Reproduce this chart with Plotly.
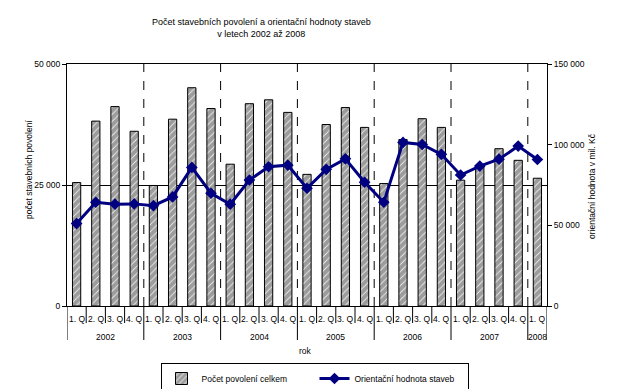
import plotly.graph_objects as go

# ---- data ----
years = ["2002", "2003", "2004", "2005", "2006", "2007", "2008"]
quarters_per_year = [4, 4, 4, 4, 4, 4, 1]
quarter_labels = ["1. Q", "2. Q", "3. Q", "4. Q"] * 6 + ["1. Q"]
permits = [25500, 38200, 41200, 36100,
           24900, 38600, 45100, 40800,
           29300, 41800, 42600, 40000,
           27200, 37500, 41000, 36900,
           25300, 34400, 38700, 36900,
           26000, 29100, 32500, 30100,
           26400]
value_mil = [51100, 64300, 63100, 63300,
             62200, 67600, 85900, 69900,
             63100, 78100, 86300, 87300,
             73000, 84700, 91200, 76700,
             64300, 101400, 100100, 94000,
             81200, 86700, 91000, 99100,
             90800]
left_ticks = [0, 25000, 50000]
left_ticktext = ["0", "25 000", "50 000"]
right_ticks = [0, 50000, 100000, 150000]
right_ticktext = ["0", "50 000", "100 000", "150 000"]

FONT = "Liberation Sans, Arial, sans-serif"

W, H = 626, 389
L, R, T, B = 67, 79, 64, 83
ph = H - T - B
pw = W - L - R

def py(px):  # pixel y -> paper y
    return (H - B - px) / ph

def pxp(px):  # pixel x -> paper x
    return (px - L) / pw

x = list(range(len(permits)))

fig = go.Figure()
fig.add_trace(go.Bar(
    x=x, y=permits, name="Počet povolení celkem",
    marker=dict(color="white", line=dict(color="black", width=1),
                pattern=dict(shape="/", fgcolor="#3a3a3a", bgcolor="white",
                             size=5, solidity=0.85)),
    yaxis="y"))
fig.add_trace(go.Scatter(
    x=x, y=value_mil, name="Orientační hodnota staveb", mode="lines+markers",
    line=dict(color="#000080", width=3),
    marker=dict(symbol="diamond", size=9, color="#000080"),
    yaxis="y2"))

shapes = []
annotations = []
bounds = [-0.5]
for n in quarters_per_year:
    bounds.append(bounds[-1] + n)
for b in bounds[1:-1]:
    shapes.append(dict(type="line", xref="x", yref="paper", x0=b, x1=b, y0=0, y1=1,
                       line=dict(color="black", width=1, dash="dash"), layer="below"))
for b in bounds:
    shapes.append(dict(type="line", xref="x", yref="paper", x0=b, x1=b,
                       y0=0, y1=py(340), line=dict(color="black", width=1)))
for i in range(len(permits) - 1):
    b = i + 0.5
    if b not in bounds:
        shapes.append(dict(type="line", xref="x", yref="paper", x0=b, x1=b,
                           y0=0, y1=py(323), line=dict(color="black", width=1)))

def ann(**kw):
    base = dict(showarrow=False, xanchor="center", yanchor="middle",
                font=dict(size=8.5))
    base.update(kw)
    annotations.append(base)

for i, q in enumerate(quarter_labels):
    ann(x=i, y=py(319), xref="x", yref="paper", text=q)
for k, yr in enumerate(years):
    c = (bounds[k] + bounds[k + 1]) / 2
    ann(x=c, y=py(337), xref="x", yref="paper", text=yr)
ann(x=pxp(305), y=py(351), xref="paper", yref="paper", text="rok")
ann(x=pxp(29), y=py(170), xref="paper", yref="paper",
    text="počet stavebních povolení", textangle=-90)
ann(x=pxp(592), y=py(186), xref="paper", yref="paper",
    text="orientační hodnota v mil. Kč", textangle=-90)
ann(x=pxp(261), y=py(28), xref="paper", yref="paper",
    text="Počet stavebních povolení a orientační hodnoty staveb<br>v letech 2002 až 2008",
    font=dict(size=9))

fig.update_layout(
    width=W, height=H, margin=dict(l=L, r=R, t=T, b=B, autoexpand=False),
    paper_bgcolor="white", plot_bgcolor="white",
    font=dict(family=FONT, size=8.5, color="black"),
    bargap=0.57, showlegend=True, hovermode=False,
    xaxis=dict(range=[-0.5, len(permits) - 0.5], showticklabels=False, ticks="",
               showgrid=False, zeroline=False, showline=True, linecolor="black",
               linewidth=1, mirror=True),
    yaxis=dict(range=[0, 50000], tickvals=left_ticks, ticktext=left_ticktext,
               ticks="outside", ticklen=4, tickcolor="black", showline=True,
               linecolor="black", linewidth=1, showgrid=True, gridcolor="black",
               gridwidth=1, zeroline=False, tickfont=dict(size=8.5)),
    yaxis2=dict(range=[0, 150000], tickvals=right_ticks, ticktext=right_ticktext,
                overlaying="y", side="right", ticks="outside", ticklen=4,
                tickcolor="black", showline=True, linecolor="black", linewidth=1,
                showgrid=False, zeroline=False, tickfont=dict(size=8.5)),
    legend=dict(orientation="h", xref="container", yref="container",
                x=314.5 / W, xanchor="center", y=1 - 363 / H, yanchor="top",
                bordercolor="black", borderwidth=1, font=dict(size=8.5),
                bgcolor="white", entrywidth=108, tracegroupgap=0),
    shapes=shapes, annotations=annotations,
)

fig.write_html("out.html", config={"displayModeBar": False},
               post_script="document.body.style.margin='0';document.body.style.overflow='hidden';")
